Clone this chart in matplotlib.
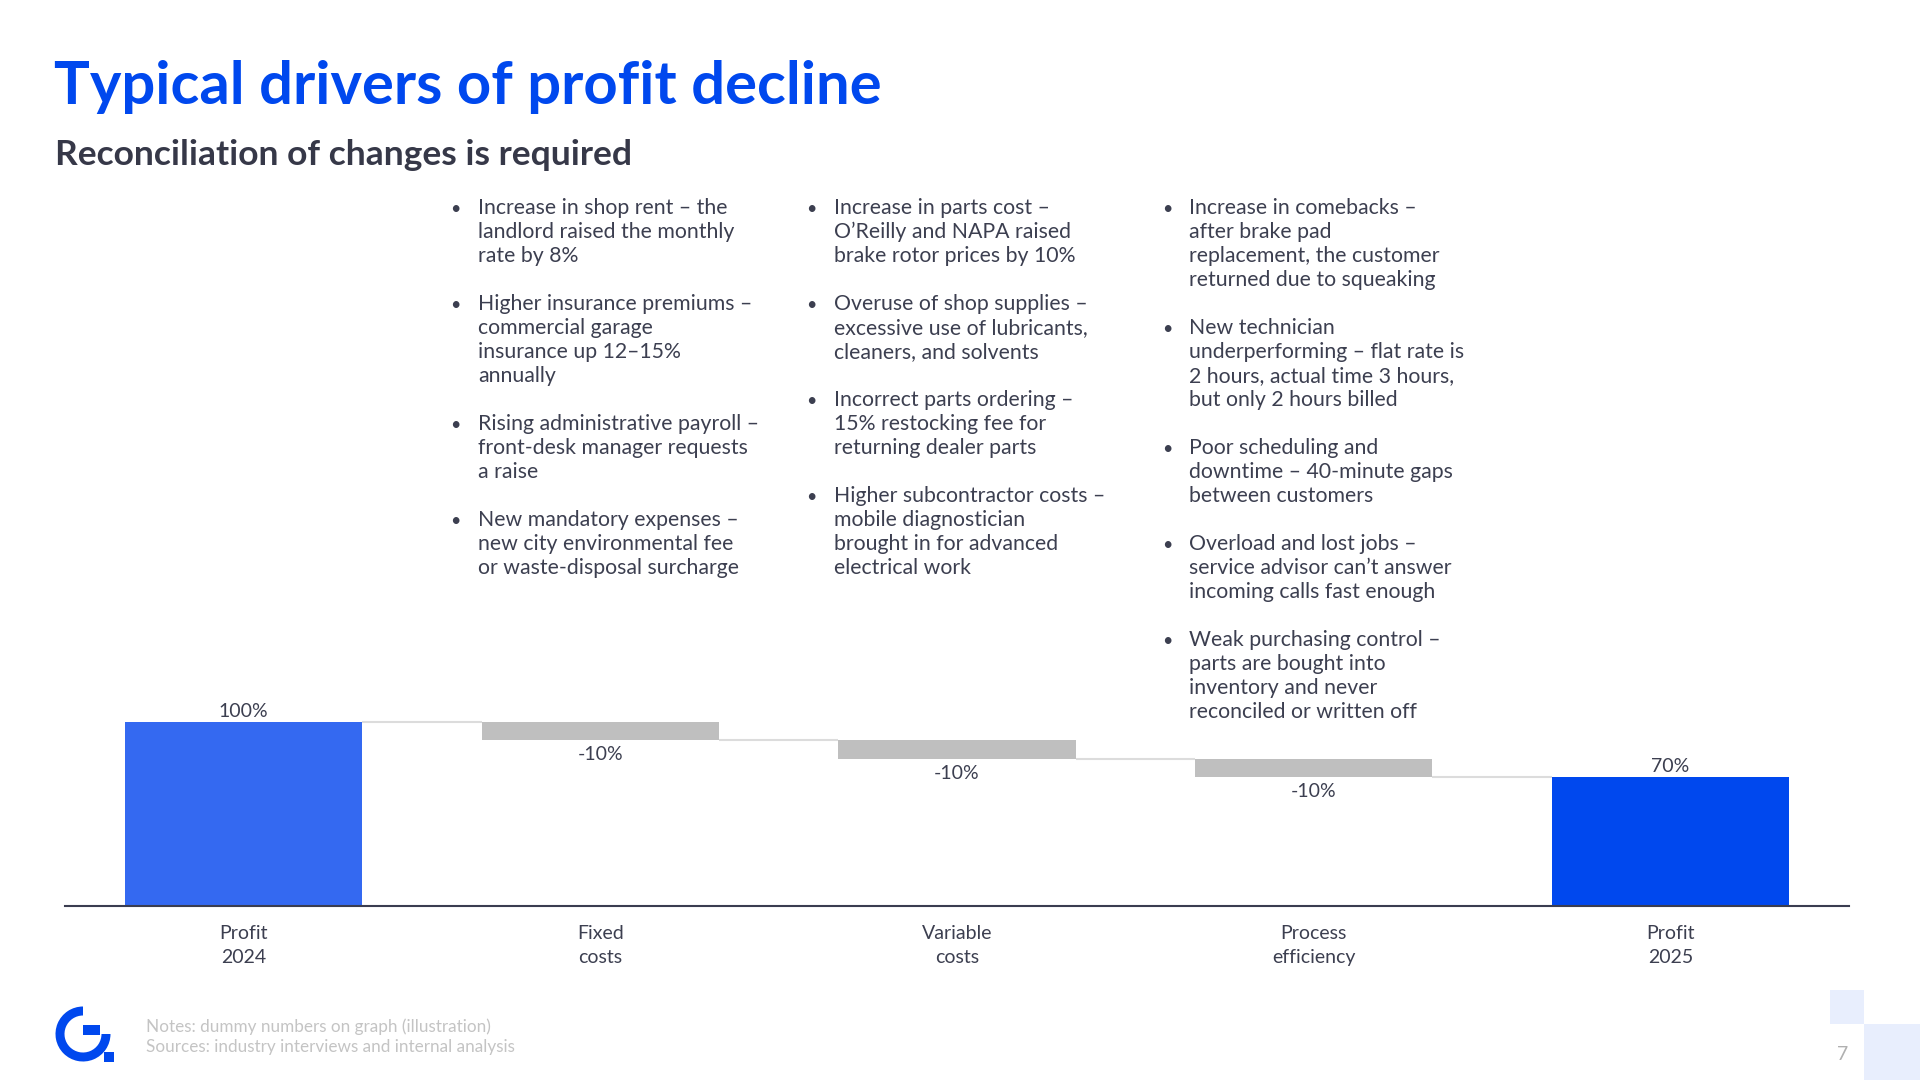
import matplotlib
matplotlib.use("Agg")
import matplotlib.pyplot as plt
from matplotlib.patches import Rectangle, Wedge

# chart data
categories = ["Profit\n2024", "Fixed\ncosts", "Variable\ncosts", "Process\nefficiency", "Profit\n2025"]
values = [100, -10, -10, -10, 70]
is_total = [True, False, False, False, True]
value_labels = ["100%", "-10%", "-10%", "-10%", "70%"]

# bullet text, wrapped as on the slide
fixed_items = [
    ["Increase in shop rent \u2013 the", "landlord raised the monthly", "rate by 8%"],
    ["Higher insurance premiums \u2013", "commercial garage", "insurance up 12\u201315%", "annually"],
    ["Rising administrative payroll \u2013", "front-desk manager requests", "a raise"],
    ["New mandatory expenses \u2013", "new city environmental fee", "or waste-disposal surcharge"],
]
variable_items = [
    ["Increase in parts cost \u2013", "O\u2019Reilly and NAPA raised", "brake rotor prices by 10%"],
    ["Overuse of shop supplies \u2013", "excessive use of lubricants,", "cleaners, and solvents"],
    ["Incorrect parts ordering \u2013", "15% restocking fee for", "returning dealer parts"],
    ["Higher subcontractor costs \u2013", "mobile diagnostician", "brought in for advanced", "electrical work"],
]
process_items = [
    ["Increase in comebacks \u2013", "after brake pad", "replacement, the customer", "returned due to squeaking"],
    ["New technician", "underperforming \u2013 flat rate is", "2 hours, actual time 3 hours,", "but only 2 hours billed"],
    ["Poor scheduling and", "downtime \u2013 40-minute gaps", "between customers"],
    ["Overload and lost jobs \u2013", "service advisor can\u2019t answer", "incoming calls fast enough"],
    ["Weak purchasing control \u2013", "parts are bought into", "inventory and never", "reconciled or written off"],
]

title = "Typical drivers of profit decline"
subtitle = "Reconciliation of changes is required"
notes = ["Notes: dummy numbers on graph (illustration)",
         "Sources: industry interviews and internal analysis"]

BLUE = "#0048EE"
BLUE_LIGHT = "#3469F1"
GREY_BAR = "#BFBFBF"
TEXT = "#3C3F50"

plt.rcParams["font.family"] = ["Lato", "DejaVu Sans"]

W, H = 1920, 1080
fig = plt.figure(figsize=(19.2, 10.8), dpi=100)

# overlay axes in pixel coordinates for slide decorations
deco = fig.add_axes([0, 0, 1, 1])
deco.set_xlim(0, W)
deco.set_ylim(H, 0)
deco.axis("off")

deco.text(54, 104, title, fontsize=43, fontweight="bold", color=BLUE, va="baseline")
deco.text(55, 165, subtitle, fontsize=25.5, fontweight="bold", color="#363848", va="baseline")

# bullet columns
def draw_column(items, bullet_x, text_x):
    k = 0
    for item in items:
        for j, line in enumerate(item):
            y = 214 + 24 * k
            if j == 0:
                deco.text(bullet_x, y, "\u2022", fontsize=13, color=TEXT, va="baseline")
            deco.text(text_x, y, line, fontsize=15.3, color=TEXT, va="baseline")
            k += 1
        k += 1

draw_column(fixed_items, 450, 478)
draw_column(variable_items, 806, 834)
draw_column(process_items, 1162, 1189)

# footer
deco.text(146, 1032, notes[0], fontsize=12.3, color="#C4C4C4", va="baseline")
deco.text(146, 1052, notes[1], fontsize=12.3, color="#C4C4C4", va="baseline")
deco.text(1843, 1060, "7", fontsize=14, color="#B0B0B0", va="baseline", ha="center")
deco.add_patch(Rectangle((1830, 990), 34, 34, color="#E8EEFD", lw=0))
deco.add_patch(Rectangle((1864, 1024), 56, 56, color="#E8EEFD", lw=0))

# logo
deco.add_patch(Wedge((83, 1034), 27.5, 0, 270, width=9, color=BLUE, lw=0))
deco.add_patch(Rectangle((83, 1025), 17, 9.5, color=BLUE, lw=0))
deco.add_patch(Rectangle((104, 1052), 10, 10, color=BLUE, lw=0))

# waterfall chart
ax = fig.add_axes([65 / W, (H - 906) / H, 1784 / W, 221 / H])
xs = list(range(len(categories)))
bar_w = 0.665
running = 0
tops = []
for i, v in enumerate(values):
    if is_total[i]:
        bottom, height = 0, v
        color = BLUE_LIGHT if i == 0 else BLUE
        running = v
    else:
        bottom, height = running + v, -v
        color = GREY_BAR
        running = running + v
    ax.bar(xs[i], height, bottom=bottom, width=bar_w, color=color, lw=0, zorder=2)
    tops.append(running)
    if v >= 0:
        ax.annotate(value_labels[i], (xs[i], bottom + height), xytext=(0, 7.5),
                    textcoords="offset points", ha="center", va="center",
                    fontsize=14, color=TEXT)
    else:
        ax.annotate(value_labels[i], (xs[i], bottom), xytext=(0, -10.5),
                    textcoords="offset points", ha="center", va="center",
                    fontsize=14, color=TEXT)

# connectors
for i in range(len(values) - 1):
    ax.plot([xs[i] + bar_w / 2, xs[i + 1] - bar_w / 2], [tops[i], tops[i]],
            color="#DCDCDC", lw=1.5, zorder=1, solid_capstyle="butt")

ax.set_xlim(-0.5, len(categories) - 0.5)
ax.set_ylim(0, 120)
ax.set_xticks(xs)
ax.set_xticklabels(categories, fontsize=14, color=TEXT, linespacing=1.45)
ax.tick_params(axis="x", length=0, pad=14)
ax.set_yticks([])
for s in ["top", "right", "left"]:
    ax.spines[s].set_visible(False)
ax.spines["bottom"].set_color("#3A3D50")
ax.spines["bottom"].set_linewidth(1.5)
ax.patch.set_alpha(0)

fig.savefig("out.png", dpi=100)
